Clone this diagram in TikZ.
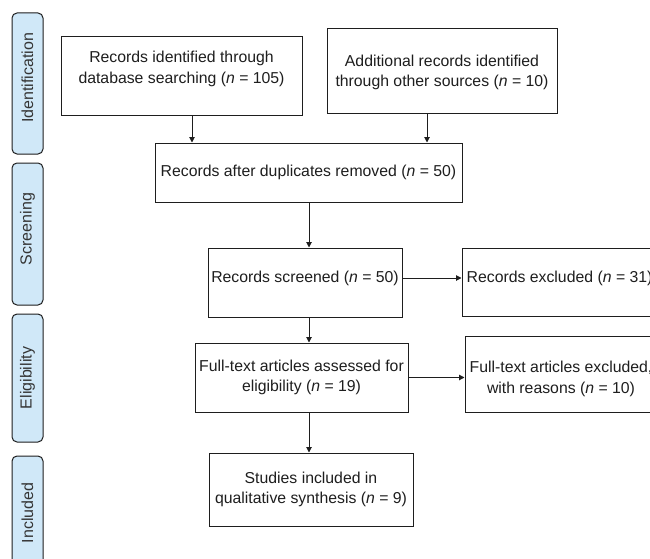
\documentclass[tikz,border=0pt]{standalone}
\usepackage{fontspec}
\setmainfont{Liberation Sans}
\usetikzlibrary{arrows.meta}
\definecolor{tabfill}{RGB}{208,232,248}
\definecolor{ink}{RGB}{30,30,30}
\begin{document}
\begin{tikzpicture}[x=1pt,y=-1pt,
  box/.style={draw=ink, line width=1pt, fill=white, inner sep=0pt, rectangle},
  txt/.style={align=center, inner sep=0pt, text=ink, font=\fontsize{15.8}{20.5}\selectfont},
  tab/.style={draw=ink, line width=1pt, fill=tabfill, rounded corners=5pt},
  tabtext/.style={rotate=90, inner sep=0pt, text=ink!90, font=\fontsize{16}{19}\selectfont},
  arr/.style={draw=ink, line width=1pt, -{Triangle[length=5.5pt,width=5.5pt]}}]
\useasboundingbox (0,0) rectangle (650,559);
\clip (0,0) rectangle (650,559);

% phase tabs
\draw[tab] (12,13) rectangle (43,154);
\draw[tab] (12,163) rectangle (43,305);
\draw[tab] (12,314) rectangle (43,442);
\draw[tab] (12,456) rectangle (43,572);
\node[tabtext] (tid) at (27.5,78) {Identification};
\node[tabtext] (tsc) at (27.5,229) {Screening};
\node[tabtext] (tel) at (27.5,378) {Eligibility};
\node[tabtext] (tin) at (27.5,513) {Included};

% boxes
\node[box, minimum width=241, minimum height=79] (b1) at (181.5,76.5) {};
\node[txt] (t1) at ([yshift=7.5pt]b1.center) {Records identified through\\database searching (\textit{n} = 105)};

\node[box, minimum width=230, minimum height=85] (b2) at (442,71.5) {};
\node[txt] (t2) at ([yshift=-1pt]b2.center) {Additional records identified\\through other sources (\textit{n} = 10)};

\node[box, minimum width=307, minimum height=59] (b3) at (308.5,172.5) {};
\node[txt] (t3) at (b3.center) {Records after duplicates removed (\textit{n} = 50)};

\node[box, minimum width=194, minimum height=69] (b4) at (305,282.5) {};
\node[txt] (t4) at ([yshift=4.5pt]b4.center) {Records screened (\textit{n} = 50)};

\node[box, minimum width=200, minimum height=68] (b5) at (562,282) {};
\node[txt, anchor=west] (t5) at ([xshift=5pt,yshift=4pt]b5.west) {Records excluded (\textit{n} = 31)};

\node[box, minimum width=213, minimum height=69] (b6) at (301.5,377.5) {};
\node[txt] (t6) at (b6.center) {Full-text articles assessed for\\eligibility (\textit{n} = 19)};

\node[box, minimum width=192, minimum height=76] (b7) at (561,374) {};
\node[txt] (t7) at ([yshift=-5pt]b7.center) {Full-text articles excluded,\\with reasons (\textit{n} = 10)};

\node[box, minimum width=204, minimum height=73] (b8) at (311,489.5) {};
\node[txt] (t8) at (b8.center) {Studies included in\\qualitative synthesis (\textit{n} = 9)};

% guide coordinates
\coordinate (c1) at (192,0);
\coordinate (c2) at (427,0);
\coordinate (cm) at (309,0);
\coordinate (r1) at (0,278);

% connectors
\draw[arr] (b1.south -| c1) -- (b3.north -| c1);
\draw[arr] (b2.south -| c2) -- (b3.north -| c2);
\draw[arr] (b3.south -| cm) -- (b4.north -| cm);
\draw[arr] (b4.east |- r1) -- (b5.west |- r1);
\draw[arr] (b4.south -| cm) -- (b6.north -| cm);
\draw[arr] (b6.east) -- (b7.west |- b6.east);
\draw[arr] (b6.south -| cm) -- (b8.north -| cm);
\end{tikzpicture}
\end{document}
